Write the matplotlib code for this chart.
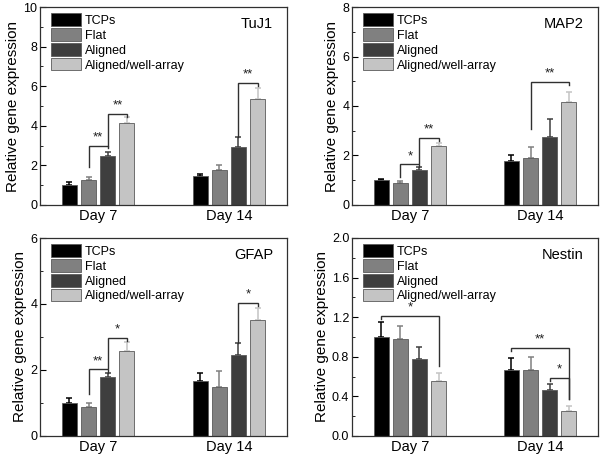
import numpy as np
import matplotlib
matplotlib.use('Agg')
import matplotlib.pyplot as plt
from matplotlib.ticker import MultipleLocator

plt.rcParams['font.family'] = ['Liberation Sans', 'DejaVu Sans']

groups = ['Day 7', 'Day 14']
series = ['TCPs', 'Flat', 'Aligned', 'Aligned/well-array']
colors = ['#000000', '#808080', '#3e3e3e', '#c4c4c4']

# values per marker: rows = series, cols = Day 7 / Day 14
tuj1 = [[1.00, 1.48], [1.28, 1.77], [2.45, 2.93], [4.12, 5.37]]
tuj1_err = [[0.15, 0.10], [0.13, 0.25], [0.22, 0.50], [0.33, 0.55]]
map2 = [[1.00, 1.78], [0.88, 1.88], [1.43, 2.75], [2.38, 4.15]]
map2_err = [[0.07, 0.25], [0.08, 0.48], [0.10, 0.72], [0.13, 0.40]]
gfap = [[1.00, 1.67], [0.88, 1.47], [1.78, 2.45], [2.57, 3.52]]
gfap_err = [[0.15, 0.23], [0.13, 0.50], [0.12, 0.38], [0.28, 0.35]]
nestin = [[1.00, 0.67], [0.98, 0.67], [0.78, 0.46], [0.56, 0.25]]
nestin_err = [[0.15, 0.12], [0.13, 0.13], [0.12, 0.07], [0.08, 0.05]]

# significance brackets: (group, bar a, bar b, height, left leg bottom, right leg bottom, label)
tuj1_sig = [(0, 1, 2, 2.99, 1.93, 2.86, '**'),
            (0, 2, 3, 4.62, 2.99, 4.45, '**'),
            (1, 2, 3, 6.17, 3.45, 6.00, '**')]
map2_sig = [(0, 1, 2, 1.64, 1.14, 1.55, '*'),
            (0, 2, 3, 2.71, 1.68, 2.60, '**'),
            (1, 1, 3, 4.97, 3.09, 4.85, '**')]
gfap_sig = [(0, 1, 2, 2.02, 1.26, 1.92, '**'),
            (0, 2, 3, 2.97, 2.07, 2.87, '*'),
            (1, 2, 3, 4.03, 2.82, 3.93, '*')]
nestin_sig = [(0, 0, 3, 1.21, 1.18, 0.71, '*'),
              (1, 0, 3, 0.89, 0.86, 0.37, '**'),
              (1, 2, 3, 0.59, 0.56, 0.37, '*')]

panels = [
    ('TuJ1', tuj1, tuj1_err, tuj1_sig, 10, 2, '%d'),
    ('MAP2', map2, map2_err, map2_sig, 8, 2, '%d'),
    ('GFAP', gfap, gfap_err, gfap_sig, 6, 2, '%d'),
    ('Nestin', nestin, nestin_err, nestin_sig, 2.0, 0.4, '%.1f'),
]

W, H = 600, 455
rects = [(40, 7, 247, 198), (352, 7, 246, 198),
         (40, 238, 247, 198), (352, 238, 246, 198)]

fig = plt.figure(figsize=(6, 4.55), dpi=100)

bw = 0.115
step = 0.147
x = np.arange(len(groups))
offs = (np.arange(len(series)) - 1.5) * step

for (name, vals, errs, sig, ymax, major, fmt), (l, t, w, h) in zip(panels, rects):
    ax = fig.add_axes([l / W, 1 - (t + h) / H, w / W, h / H])
    for k in range(len(series)):
        ax.bar(x + offs[k], vals[k], bw, color=colors[k], edgecolor='#5a5a5a',
               linewidth=0.6, label=series[k], zorder=2)
        ax.errorbar(x + offs[k], vals[k], yerr=[np.zeros(2), errs[k]], fmt='none',
                    ecolor=colors[k], elinewidth=1.1, capsize=2.3, capthick=1.1, zorder=1)
    for g, a, b, yh, yl, yr, lab in sig:
        xa = x[g] + offs[a]
        xb = x[g] + offs[b]
        ax.plot([xa, xa, xb, xb], [yl, yh, yh, yr], color='#303030', lw=1.0,
                solid_joinstyle='miter', zorder=3)
        ax.text((xa + xb) / 2, yh + ymax * 0.012, lab, ha='center', va='bottom',
                fontsize=9.5, color='#202020')
    ax.set_xlim(-0.445, 1.445)
    ax.set_ylim(0, ymax)
    ax.set_xticks(x)
    ax.set_xticklabels(groups, fontsize=10.5)
    ax.tick_params(axis='x', length=0, pad=3)
    ax.yaxis.set_major_locator(MultipleLocator(major))
    ax.yaxis.set_minor_locator(MultipleLocator(major / 2))
    ax.yaxis.set_major_formatter(matplotlib.ticker.FormatStrFormatter(fmt))
    ax.tick_params(axis='y', which='major', direction='in', length=4, labelsize=9, pad=2)
    ax.tick_params(axis='y', which='minor', direction='in', length=2)
    ax.set_ylabel('Relative gene expression', fontsize=11, labelpad=2)
    for s in ax.spines.values():
        s.set_linewidth(0.9)
        s.set_color('#303030')
    ax.text(0.943, 0.914, name, transform=ax.transAxes, ha='right', va='center',
            fontsize=10.5)
    ax.legend(loc='upper left', bbox_to_anchor=(0.02, 1.0), frameon=False,
              fontsize=9, handlelength=2.4, handleheight=1.15, labelspacing=0.12,
              handletextpad=0.3, borderaxespad=0.3, borderpad=0.2)

fig.savefig('out.png', dpi=100)
